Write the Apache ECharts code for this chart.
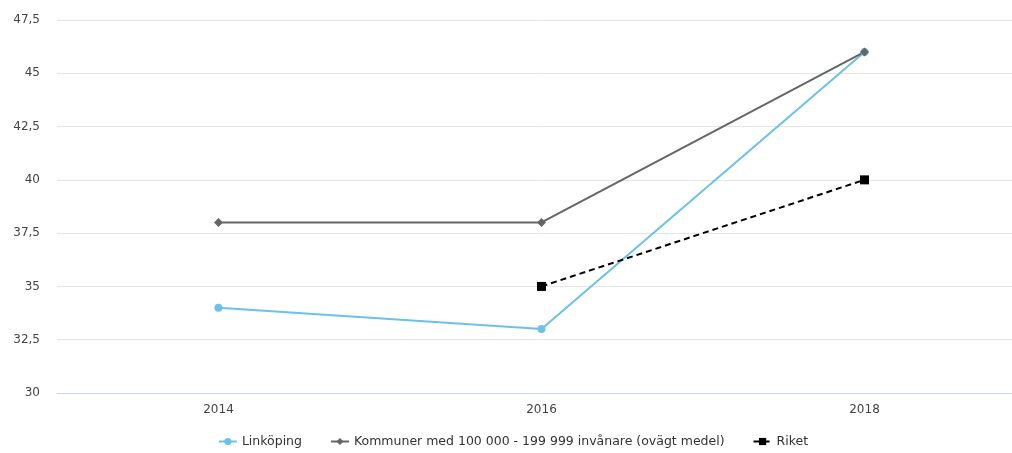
<!DOCTYPE html>
<html><head><meta charset="utf-8">
<script src="https://cdn.jsdelivr.net/npm/echarts@6/dist/echarts.min.js"></script>
<style>html,body{margin:0;padding:0;background:#fff;overflow:hidden}#c{width:1026px;height:453px}</style>
</head><body><div id="c"></div>
<script>
const categories = ['2014', '2016', '2018'];
const linkoping = [34, 33, 46];
const kommuner = [38, 38, 46];
const riket = [null, 35, 40];
const seriesNames = ['Linköping', 'Kommuner med 100 000 - 199 999 invånare (ovägt medel)', 'Riket'];

const chart = echarts.init(document.getElementById('c'));
const font = 'DejaVu Sans';
chart.setOption({
  animation: false,
  grid: { left: 57, top: 20, bottom: 60, right: 0 },
  legend: {
    bottom: 0, left: 'center', itemGap: 28, itemWidth: 18, itemHeight: 9,
    textStyle: { fontFamily: font, fontSize: 12.5, color: '#333' }
  },
  xAxis: {
    type: 'category', data: categories, boundaryGap: true,
    axisLine: { lineStyle: { color: '#ccd6eb', width: 1 } },
    axisTick: { show: false },
    axisLabel: { fontFamily: font, fontSize: 12, color: '#444', margin: 11 }
  },
  yAxis: {
    type: 'value', min: 30, max: 47.5, interval: 2.5,
    axisLine: { show: false }, axisTick: { show: false },
    splitLine: { lineStyle: { color: '#e6e6e6' } },
    axisLabel: { fontFamily: font, fontSize: 12, color: '#444', margin: 17,
      formatter: v => String(v).replace('.', ',') }
  },
  series: [
    { name: seriesNames[0], type: 'line', data: linkoping, symbol: 'circle', symbolSize: 8,
      itemStyle: { color: '#6cc1e8' }, lineStyle: { width: 2, color: '#6cc1e8' } },
    { name: seriesNames[1], type: 'line', data: kommuner, symbol: 'diamond', symbolSize: 9,
      itemStyle: { color: '#666666' }, lineStyle: { width: 2, color: '#666666' } },
    { name: seriesNames[2], type: 'line', data: riket, symbol: 'rect', symbolSize: 9,
      itemStyle: { color: '#000000' }, lineStyle: { width: 2, color: '#000000', type: [6, 4] } }
  ]
});
</script></body></html>
